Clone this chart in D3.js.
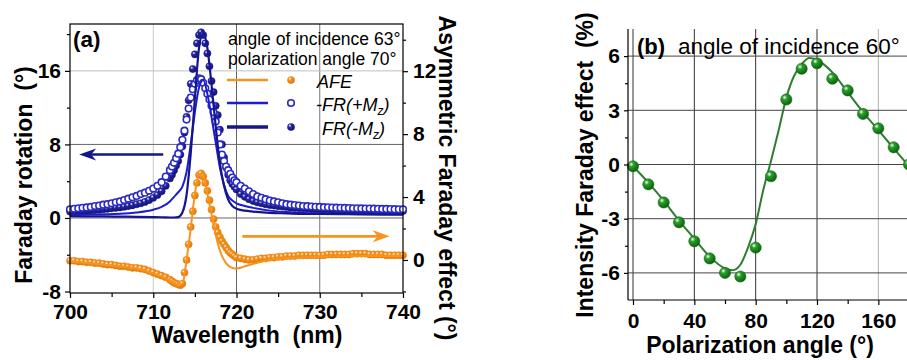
<!DOCTYPE html>
<html><head><meta charset="utf-8">
<script src="https://cdn.jsdelivr.net/npm/d3@7"></script>
<style>
body{margin:0;background:#fff;}
svg text{font-family:"Liberation Sans",Arial,Helvetica,sans-serif;}
</style></head><body>
<svg id="c" width="907" height="360"></svg>
<script>
// ---------- Panel (a) data ----------
const wavelengths = [700,700.5,701,701.5,702,702.5,703,703.5,704,704.5,705,705.5,706,706.5,707,707.5,708,708.5,709,709.5,710,710.5,711,711.5,
 712,712.25,712.5,712.75,713,713.25,713.5,713.75,714,714.25,714.5,714.75,715,715.25,715.5,715.75,716,716.25,716.5,716.75,717,717.25,717.5,717.75,718,718.25,718.5,718.75,719,719.25,719.5,719.75,
 720,720.5,721,721.5,722,722.5,723,723.5,724,724.5,725,725.5,726,726.5,727,727.5,728,728.5,729,729.5,730,730.5,731,731.5,732,732.5,733,733.5,734,734.5,735,735.5,736,736.5,737,737.5,738,738.5,739,739.5,740];
const frPlusMz = [0.95,1.0,1.05,1.1,1.15,1.2,1.3,1.35,1.45,1.5,1.6,1.7,1.8,1.95,2.1,2.25,2.4,2.6,2.75,2.95,3.2,3.5,3.9,4.5,
 5.2,5.6,6.0,6.5,7.0,7.7,8.5,9.5,10.7,11.9,13.1,14.0,14.6,15.0,15.2,15.1,14.7,14.1,13.5,12.9,12.2,11.5,10.5,9.3,8.0,6.9,6.2,5.6,5.2,4.8,4.4,4.1,
 3.9,3.5,3.2,2.9,2.6,2.35,2.2,2.05,1.9,1.8,1.7,1.6,1.5,1.45,1.4,1.35,1.3,1.28,1.25,1.22,1.2,1.18,1.16,1.14,1.12,1.1,1.09,1.08,1.06,1.05,1.04,1.03,1.02,1.01,1.0,0.99,0.98,0.97,0.96,0.95,0.95];
const frMinusMz = [0.7,0.72,0.75,0.78,0.8,0.83,0.86,0.9,0.95,1.0,1.05,1.1,1.15,1.22,1.3,1.38,1.5,1.6,1.75,1.95,2.2,2.5,2.9,3.5,
 4.3,4.7,5.2,5.7,6.2,6.9,7.8,9.3,11.0,12.8,14.6,16.2,17.8,19.0,19.9,20.2,19.9,19.0,17.9,16.5,14.9,13.7,12.2,11.2,9.6,8.0,6.6,5.5,4.7,4.1,3.7,3.4,
 3.1,2.6,2.3,2.05,1.85,1.7,1.6,1.5,1.4,1.35,1.3,1.25,1.2,1.15,1.1,1.08,1.05,1.03,1.0,0.98,0.96,0.94,0.92,0.9,0.88,0.87,0.86,0.85,0.84,0.83,0.82,0.81,0.8,0.79,0.78,0.77,0.76,0.76,0.75,0.75,0.75];
const afe = [-0.05,-0.05,-0.1,-0.1,-0.15,-0.15,-0.2,-0.2,-0.25,-0.3,-0.3,-0.35,-0.4,-0.4,-0.45,-0.5,-0.5,-0.55,-0.6,-0.7,-0.8,-0.9,-1.0,-1.1,
 -1.25,-1.35,-1.45,-1.5,-1.55,-1.6,-1.5,-0.8,0.0,1.0,2.1,3.1,4.1,4.9,5.4,5.5,5.3,4.9,4.4,3.8,3.2,2.6,2.1,1.75,1.45,1.2,1.0,0.8,0.6,0.45,0.35,0.25,
 0.15,0.1,0.05,0.0,0.0,0.05,0.1,0.1,0.15,0.15,0.2,0.2,0.25,0.25,0.25,0.3,0.3,0.3,0.3,0.3,0.3,0.3,0.35,0.35,0.35,0.35,0.35,0.35,0.4,0.4,0.4,0.4,0.35,0.35,0.35,0.35,0.3,0.3,0.3,0.3,0.3];
// fitted curves
const fitWavelengths = [700,702,704,706,708,710,711,712,712.5,713,713.5,714,714.5,715,715.5,716,716.5,717,717.5,718,718.5,719,719.5,720,721,722,724,726,728,730,735,740];
const fitFrPlus = [0.35,0.37,0.4,0.45,0.6,0.9,1.2,1.8,2.3,2.8,3.4,5.0,8.0,11.5,14.2,15.0,13.5,11.0,8.2,5.5,3.6,2.4,1.9,1.6,1.3,1.1,0.8,0.65,0.55,0.5,0.45,0.4];
const fitFrMinus = [0.2,0.18,0.17,0.15,0.13,0.1,0.08,0.05,0.05,0.1,0.6,2.5,7.0,13.0,18.5,20.1,18.5,14.5,10.0,6.0,3.5,2.0,1.3,1.0,0.8,0.7,0.55,0.5,0.45,0.45,0.4,0.35];
const fitAfe = [-0.1,-0.2,-0.3,-0.4,-0.55,-0.85,-1.05,-1.3,-1.45,-1.6,-1.55,0.0,2.0,4.2,5.4,5.3,4.2,2.9,1.6,0.6,0.0,-0.35,-0.5,-0.55,-0.4,-0.25,0.0,0.1,0.15,0.2,0.25,0.25];
const xTicksA = [700,710,720,730,740];
const yLeftTicks = [-8,0,8,16];
const yRightTicks = [0,4,8,12];

// ---------- Panel (b) data ----------
const polAngles = [0,10,20,30,40,50,60,70,80,90,100,110,120,130,140,150,160,170,180];
const intensityFE = [-0.1,-1.1,-2.1,-3.2,-4.25,-5.2,-6.0,-6.2,-4.6,-0.65,3.6,5.3,5.6,4.75,4.1,2.8,2.0,0.95,0.0];
const fitAngles = [0,10,20,30,40,50,60,65,70,75,80,85,90,95,100,105,110,115,120,125,130,140,150,160,170,180];
const fitIntensity = [-0.1,-1.0,-2.0,-3.1,-4.1,-5.1,-5.75,-5.85,-5.55,-4.6,-3.3,-1.4,0.2,1.9,3.7,4.9,5.55,5.9,5.8,5.5,5.1,4.0,2.9,1.9,0.9,-0.1];
const xTicksB = [0,40,80,120,160];
const yTicksB = [-6,-3,0,3,6];

const C = {orange:"#f7931e", blue:"#1c1cd6", blueOpen:"#2b2bc4", navy:"#16168c", green:"#1f8f1f", greenLine:"#2e7d32"};

const svg = d3.select("#c");
const defs = svg.append("defs");
function sphere(id, base, dark){
  const g = defs.append("radialGradient").attr("id",id).attr("cx","35%").attr("cy","32%").attr("r","70%");
  g.append("stop").attr("offset","0%").attr("stop-color","#ffffff").attr("stop-opacity",0.9);
  g.append("stop").attr("offset","30%").attr("stop-color",base);
  g.append("stop").attr("offset","100%").attr("stop-color",dark);
}
sphere("gOr","#f7931e","#d9780a");
sphere("gNv","#2a2aa8","#101070");
sphere("gGr","#2aa02a","#0e5e0e");

const fmt = d => String(d);
function styleAxis(g, size){
  g.attr("font-family",null).attr("font-size",null);
  g.select(".domain").remove();
  g.selectAll(".tick line").attr("stroke","#000").attr("stroke-width",1.2);
  g.selectAll("text").attr("fill","#000")
   .style("font-size",size+"px").style("font-weight","bold")
   .style("font-family",'"Liberation Sans",Arial,sans-serif');
}

// ================= Panel (a) =================
const xA = d3.scaleLinear().domain([700,740]).range([70,403]);
const yL = d3.scaleLinear().domain([-8.16,21.1]).range([293,24]);
const yR = d3.scaleLinear().domain([-2.1,15]).range([293,24]);
const pa = svg.append("g");

// grid
const vGridA = [[710,"#c8c8c8"],[720,"#666"],[730,"#777"]];
vGridA.forEach(([v,c])=>pa.append("line").attr("x1",xA(v)).attr("x2",xA(v)).attr("y1",yL.range()[1]).attr("y2",yL.range()[0]).attr("stroke",c).attr("stroke-width",1));
const hGridA = [[16,"#c0c0c0"],[8,"#666"],[0,"#666"]];
hGridA.forEach(([v,c])=>pa.append("line").attr("x1",xA.range()[0]).attr("x2",xA.range()[1]).attr("y1",yL(v)).attr("y2",yL(v)).attr("stroke",c).attr("stroke-width",1));

const plotA = pa.append("g");
const idx = d3.range(wavelengths.length);
plotA.append("g").selectAll("circle").data(idx).join("circle")
  .attr("cx",i=>xA(wavelengths[i])).attr("cy",i=>yL(frMinusMz[i])).attr("r",3.6)
  .attr("fill","url(#gNv)").attr("stroke","#181880").attr("stroke-width",0.5);
plotA.append("g").selectAll("circle").data(idx).join("circle")
  .attr("cx",i=>xA(wavelengths[i])).attr("cy",i=>yL(frPlusMz[i])).attr("r",3.3)
  .attr("fill","#fff").attr("stroke",C.blueOpen).attr("stroke-width",1.6);
plotA.append("g").selectAll("circle").data(idx).join("circle")
  .attr("cx",i=>xA(wavelengths[i])).attr("cy",i=>yR(afe[i])).attr("r",3.6)
  .attr("fill","url(#gOr)").attr("stroke","#e8830f").attr("stroke-width",0.5);

const lineL = d3.line().x(d=>xA(d[0])).y(d=>yL(d[1])).curve(d3.curveMonotoneX);
const lineR = d3.line().x(d=>xA(d[0])).y(d=>yR(d[1])).curve(d3.curveMonotoneX);
plotA.append("path").attr("d",lineL(d3.zip(fitWavelengths,fitFrPlus))).attr("fill","none").attr("stroke",C.blue).attr("stroke-width",2);
plotA.append("path").attr("d",lineL(d3.zip(fitWavelengths,fitFrMinus))).attr("fill","none").attr("stroke",C.navy).attr("stroke-width",2.2);
plotA.append("path").attr("d",lineR(d3.zip(fitWavelengths,fitAfe))).attr("fill","none").attr("stroke",C.orange).attr("stroke-width",2);

// frame
pa.append("rect").attr("x",70).attr("y",24).attr("width",333).attr("height",269).attr("fill","none").attr("stroke","#000").attr("stroke-width",1.2);

let g;
g = pa.append("g").attr("transform","translate(0,293)").call(d3.axisBottom(xA).tickValues(xTicksA).tickSize(5).tickPadding(6).tickFormat(fmt)); styleAxis(g,21);
g = pa.append("g").attr("transform","translate(0,293)").call(d3.axisBottom(xA).tickValues([705,715,725,735]).tickSize(4).tickFormat("")); styleAxis(g,21);
g = pa.append("g").attr("transform","translate(70,0)").call(d3.axisLeft(yL).tickValues(yLeftTicks).tickSize(5).tickPadding(4).tickFormat(fmt)); styleAxis(g,21);
g = pa.append("g").attr("transform","translate(70,0)").call(d3.axisLeft(yL).tickValues([-4,4,12,20]).tickSize(3).tickFormat("")); styleAxis(g,21);
g = pa.append("g").attr("transform","translate(403,0)").call(d3.axisRight(yR).tickValues(yRightTicks).tickSize(5).tickPadding(5).tickFormat(fmt)); styleAxis(g,21);
g = pa.append("g").attr("transform","translate(403,0)").call(d3.axisRight(yR).tickValues([-2,2,6,10,14]).tickSize(3).tickFormat("")); styleAxis(g,21);

// axis titles
pa.append("text").attr("transform","translate(32,175) rotate(-90)").attr("text-anchor","middle")
  .attr("font-size",23).attr("font-weight","bold").attr("xml:space","preserve").text("Faraday rotation  (°)");
pa.append("text").attr("transform","translate(439,178) rotate(90)").attr("text-anchor","middle")
  .attr("font-size",23).attr("font-weight","bold").text("Asymmetric Faraday effect (°)");
pa.append("text").attr("x",247).attr("y",343).attr("text-anchor","middle")
  .attr("font-size",23).attr("font-weight","bold").attr("xml:space","preserve").text("Wavelength  (nm)");
pa.append("text").attr("x",73).attr("y",47).attr("font-size",22.5).attr("font-weight","bold").text("(a)");

// legend
pa.append("text").attr("x",228).attr("y",45).attr("font-size",17.5).text("angle of incidence 63°");
pa.append("text").attr("x",228).attr("y",65).attr("font-size",17.5).text("polarization angle 70°");
const leg = [
  {y:80, col:C.orange, lw:2.5, mk:"or"},
  {y:103, col:C.blue, lw:2.5, mk:"open"},
  {y:127, col:C.navy, lw:3.5, mk:"nv"}
];
leg.forEach(l=>{
  pa.append("line").attr("x1",227).attr("x2",268).attr("y1",l.y).attr("y2",l.y).attr("stroke",l.col).attr("stroke-width",l.lw);
  if(l.mk==="or") pa.append("circle").attr("cx",291).attr("cy",l.y).attr("r",3.8).attr("fill","url(#gOr)");
  if(l.mk==="open") pa.append("circle").attr("cx",291).attr("cy",l.y).attr("r",3.3).attr("fill","#fff").attr("stroke",C.blueOpen).attr("stroke-width",1.6);
  if(l.mk==="nv") pa.append("circle").attr("cx",291).attr("cy",l.y).attr("r",3.8).attr("fill","url(#gNv)");
});
pa.append("text").attr("x",317).attr("y",88).attr("font-size",18).attr("font-style","italic").text("AFE");
const t2 = pa.append("text").attr("x",316).attr("y",111).attr("font-size",18).attr("font-style","italic");
t2.append("tspan").text("-FR(+M");
t2.append("tspan").attr("font-size",12).attr("dy",4).text("z");
t2.append("tspan").attr("dy",-4).text(")");
const t3 = pa.append("text").attr("x",322).attr("y",135).attr("font-size",18).attr("font-style","italic");
t3.append("tspan").text("FR(-M");
t3.append("tspan").attr("font-size",12).attr("dy",4).text("z");
t3.append("tspan").attr("dy",-4).text(")");

// arrows
function arrow(x1,x2,y,col){
  const dir = Math.sign(x2-x1);
  pa.append("line").attr("x1",x1).attr("x2",x2-dir*10).attr("y1",y).attr("y2",y).attr("stroke",col).attr("stroke-width",2.6);
  pa.append("path").attr("d",`M${x2},${y} L${x2-dir*17},${y-6} L${x2-dir*12},${y} L${x2-dir*17},${y+6} Z`).attr("fill",col);
}
arrow(xA(711.2), xA(701.1), yL(6.9), C.navy);
arrow(xA(720.7), xA(738.4), yR(1.5), C.orange);

// ================= Panel (b) =================
const xB = d3.scaleLinear().domain([0,180]).range([633,909]);
const yB = d3.scaleLinear().domain([-7.5,7.5]).range([300,29]);
const pb = svg.append("g");
xTicksB.forEach(v=>pb.append("line").attr("x1",xB(v)).attr("x2",xB(v)).attr("y1",yB.range()[1]).attr("y2",yB.range()[0])
  .attr("stroke", v===160?"#b0b0b0":"#333").attr("stroke-width",1));
yTicksB.forEach(v=>pb.append("line").attr("x1",628).attr("x2",907).attr("y1",yB(v)).attr("y2",yB(v))
  .attr("stroke","#444").attr("stroke-width",1));

const lineB = d3.line().x(d=>xB(d[0])).y(d=>yB(d[1])).curve(d3.curveMonotoneX);
pb.append("path").attr("d",lineB(d3.zip(fitAngles,fitIntensity))).attr("fill","none").attr("stroke",C.greenLine).attr("stroke-width",2);
pb.append("g").selectAll("circle").data(d3.zip(polAngles,intensityFE)).join("circle")
  .attr("cx",d=>xB(d[0])).attr("cy",d=>yB(d[1])).attr("r",5.6)
  .attr("fill","url(#gGr)").attr("stroke","#156b15").attr("stroke-width",0.6);

pb.append("line").attr("x1",628).attr("x2",628).attr("y1",yB.range()[1]).attr("y2",yB.range()[0]).attr("stroke","#000").attr("stroke-width",1.2);
pb.append("line").attr("x1",628).attr("x2",907).attr("y1",yB.range()[0]).attr("y2",yB.range()[0]).attr("stroke","#000").attr("stroke-width",1.2);
g = pb.append("g").attr("transform","translate(0,300)").call(d3.axisBottom(xB).tickValues(xTicksB).tickSize(5).tickPadding(8).tickFormat(fmt)); styleAxis(g,21);
g = pb.append("g").attr("transform","translate(0,300)").call(d3.axisBottom(xB).tickValues([20,60,100,140]).tickSize(4).tickFormat("")); styleAxis(g,21);
g = pb.append("g").attr("transform","translate(628,0)").call(d3.axisLeft(yB).tickValues(yTicksB).tickSize(4).tickPadding(4).tickFormat(fmt)); styleAxis(g,21);
g = pb.append("g").attr("transform","translate(628,0)").call(d3.axisLeft(yB).tickValues([-4.5,-1.5,1.5,4.5]).tickSize(3).tickFormat("")); styleAxis(g,21);

pb.append("text").attr("transform","translate(593,165) rotate(-90)").attr("text-anchor","middle")
  .attr("font-size",23).attr("font-weight","bold").attr("xml:space","preserve").text("Intensity Faraday effect  (%)");
pb.append("text").attr("x",760).attr("y",353).attr("text-anchor","middle")
  .attr("font-size",23).attr("font-weight","bold").text("Polarization angle (°)");
pb.append("text").attr("x",637).attr("y",54).attr("font-size",22).attr("font-weight","bold").text("(b)");
pb.append("text").attr("x",678).attr("y",54).attr("font-size",22.5).text("angle of incidence 60°");
</script>
</body></html>
